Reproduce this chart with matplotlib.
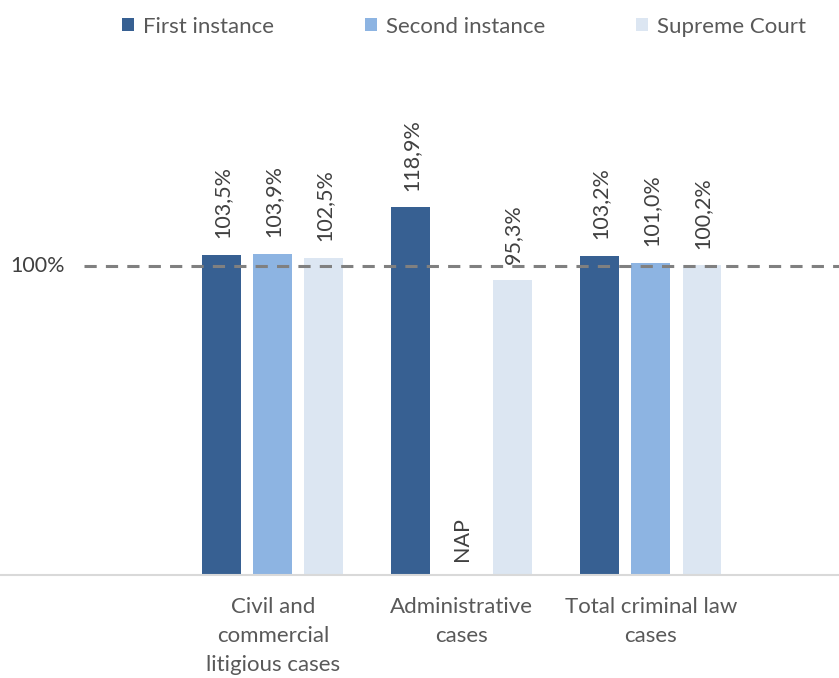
import matplotlib.pyplot as plt
import numpy as np

categories = ["Civil and\ncommercial\nlitigious cases", "Administrative\ncases", "Total criminal law\ncases"]
series = ["First instance", "Second instance", "Supreme Court"]
first_instance = [1.035, 1.189, 1.032]
second_instance = [1.039, None, 1.010]
supreme_court = [1.025, 0.953, 1.002]
labels_first = ["103,5%", "118,9%", "103,2%"]
labels_second = ["103,9%", "NAP", "101,0%"]
labels_supreme = ["102,5%", "95,3%", "100,2%"]

colors = ["#376092", "#8DB4E2", "#DCE6F2"]
text_color = "#595959"
plt.rcParams['font.family'] = ['Lato', 'DejaVu Sans']

fig = plt.figure(figsize=(8.39, 6.78), dpi=100)
ax = fig.add_axes([0, 0.152, 1, 0.76])

x = np.arange(len(categories))
width = 0.206
offsets = [-0.27, 0, 0.27]
data = [first_instance, second_instance, supreme_court]
texts = [labels_first, labels_second, labels_supreme]

for i, (vals, labs) in enumerate(zip(data, texts)):
    for j, v in enumerate(vals):
        xpos = x[j] + offsets[i]
        if v is None:
            ax.annotate(labs[j], (xpos, 0), xytext=(0, 10), textcoords="offset points",
                        rotation=90, ha="center", va="bottom", fontsize=15.5, color="#404040")
            continue
        ax.bar(xpos, v, width, color=colors[i], zorder=2,
               label=series[i] if j == 0 else None)
        ax.annotate(labs[j], (xpos, v), xytext=(0, 12), textcoords="offset points",
                    rotation=90, ha="center", va="bottom", fontsize=15.5, color="#404040")

ax.axhline(1.0, xmin=0.1, xmax=1.0, color="#808080", lw=2.2, ls=(0, (4, 3)), zorder=3)
ax.text(0.012, 1.0, "100%", transform=ax.get_yaxis_transform(), ha="left", va="center",
        fontsize=15.5, color="#404040")

ax.set_xlim(-1.444, 2.995)
ax.set_ylim(0, 1.667)
ax.set_yticks([])
ax.set_xticks(x)
ax.set_xticklabels(categories, fontsize=16, color=text_color, linespacing=1.55)
ax.tick_params(axis="x", length=0, pad=16)
for s in ["top", "right", "left"]:
    ax.spines[s].set_visible(False)
ax.spines["bottom"].set_color("#D9D9D9")
ax.spines["bottom"].set_linewidth(1.5)

fig.legend(loc="upper center", bbox_to_anchor=(0.553, 1.005), ncol=3, frameon=False,
           fontsize=16, labelcolor=text_color, handlelength=0.55, handleheight=0.55,
           handletextpad=0.4, columnspacing=4.1)

plt.savefig("out.png", dpi=100)
